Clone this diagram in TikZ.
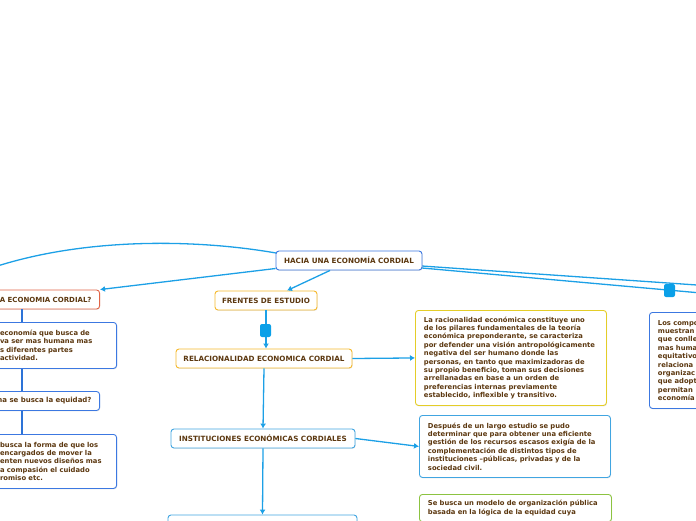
\documentclass[tikz,border=0pt]{standalone}
\usepackage{fontspec}
\setmainfont{DejaVu Sans}
\usetikzlibrary{arrows.meta,shadows}
\definecolor{ink}{RGB}{92,56,16}
\definecolor{conn}{RGB}{28,160,230}
\definecolor{spinec}{RGB}{45,115,215}
\definecolor{rootc}{RGB}{60,120,225}
\definecolor{askc}{RGB}{225,100,70}
\definecolor{gold}{RGB}{245,185,45}
\definecolor{yell}{RGB}{228,205,40}
\definecolor{sky}{RGB}{65,165,225}
\definecolor{leaf}{RGB}{140,195,65}
\definecolor{foldc}{RGB}{10,160,232}
\begin{document}
\begin{tikzpicture}[x=1pt, y=-1pt,
    box/.style={draw, rounded corners=3pt, fill=white, line width=0.9pt, text=ink, inner sep=0pt,
        drop shadow={shadow xshift=0.6pt, shadow yshift=-0.9pt, opacity=0.18}},
    title/.style={box, minimum height=19pt, font=\bfseries\fontsize{7.2}{8.4}\selectfont},
    ask/.style={title, anchor=east, text width=120pt, align=right, inner xsep=8pt, font=\bfseries\fontsize{7}{8.4}\selectfont},
    note/.style={box, align=left, inner xsep=8.5pt, font=\bfseries\fontsize{6.8}{8.4}\selectfont},
    link/.style={draw=conn, line width=1.3pt},
    arr/.style={link, -{Latex[length=5pt,width=6pt]}},
    spine/.style={draw=spinec, line width=1.4pt},
    fold/.style={fill=foldc, rounded corners=2pt, minimum width=11pt, minimum height=13pt, inner sep=0pt}]
    \useasboundingbox (0,0) rectangle (696,520);
    \clip (0,0) rectangle (696,520);
    \coordinate (far) at (-40,280);
    \coordinate (r1) at (720,286.6);
    \coordinate (r2) at (720,294.7);
    \coordinate (axis) at (22,0);
    % links first, boxes on top
    \draw[link] (276,253) .. controls (190,238) and (60,236) .. (far);
    \draw[link] (422,266) -- (r1);
    \draw[link] (422,268) -- (r2);
    \node[title, draw=rootc, minimum width=146pt] (root) at (349,260.5) {HACIA UNA ECONOMÍA CORDIAL};
    \node[ask, draw=askc] (ask1) at (100,299.5) {A ECONOMIA CORDIAL?};
    \node[note, draw=rootc, anchor=north east, text width=108pt, minimum height=46pt] (ans1) at (117,322)
        {economía que busca de\\va ser mas humana mas\\s diferentes partes\\actividad.};
    \node[ask, draw=rootc] (ask2) at (100,401) {na se busca la equidad?};
    \node[note, draw=rootc, anchor=north east, text width=108pt, minimum height=54pt] (ans2) at (117,434)
        {busca la forma de que los\\encargados de mover la\\enten nuevos diseños mas\\a compasión el cuidado\\romiso etc.};
    \node[title, draw=gold, minimum width=102pt] (front) at (266,300.5) {FRENTES DE ESTUDIO};
    \node[title, draw=gold, minimum width=176pt] (relac) at (264,358.5) {RELACIONALIDAD ECONOMICA CORDIAL};
    \node[title, draw=sky, minimum width=184pt] (instit) at (263,438.5) {INSTITUCIONES ECONÓMICAS CORDIALES};
    \node[title, draw=sky, minimum width=189pt, minimum height=20pt] (below) at (262.5,525) {};
    \node[note, draw=yell, anchor=north west, text width=174pt, minimum height=95pt] (racio) at (415,310)
        {La racionalidad económica constituye uno\\de los pilares fundamentales de la teoría\\económica preponderante, se caracteriza\\por defender una visión antropológicamente\\negativa del ser humano donde las\\personas, en tanto que maximizadoras de\\su propio beneficio, toman sus decisiones\\arrellanadas en base a un orden de\\preferencias internas previamente\\establecido, inflexible y transitivo.};
    \node[note, draw=sky, anchor=north west, text width=174pt, minimum height=62pt] (study) at (419,415)
        {Después de un largo estudio se pudo\\determinar que para obtener una  eficiente\\gestión de los recursos escasos exigía de la\\complementación de distintos tipos de\\instituciones –públicas, privadas y de la\\sociedad civil.};
    \node[note, draw=leaf, anchor=north west, text width=175pt, inner ysep=6pt] (model) at (419,494)
        {Se busca un modelo de organización pública\\basada en la lógica de la equidad cuya};
    \node[note, draw=rootc, anchor=north west, text width=100pt, minimum height=96pt] (comp) at (649,312)
        {Los compo\\muestran\\que conlle\\mas huma\\equitativo\\relaciona\\organizac\\que adopt\\permitan\\economía};
    \draw[arr] ([yshift=-8pt]root.west) -- (ask1.north east);
    \draw[arr] ([xshift=-19pt]root.south) -- ([xshift=21pt]front.north);
    \draw[arr] (front.south) -- (front.south |- relac.north);
    \draw[arr] (relac.east) -- (racio.west);
    \draw[arr] (relac.south) -- (instit.north);
    \draw[arr] (instit.east) -- (study.west);
    \draw[arr] (instit.south) -- (below.north);
    \draw[spine] (ask1.south -| axis) -- (ans1.north -| axis);
    \draw[spine] (ans1.south -| axis) -- (ask2.north -| axis);
    \draw[spine] (ask2.south -| axis) -- (ans2.north -| axis);
    \node[fold] (fold1) at (265.5,330.5) {};
    \node[fold] (fold2) at (669.5,290.5) {};
\end{tikzpicture}
\end{document}
